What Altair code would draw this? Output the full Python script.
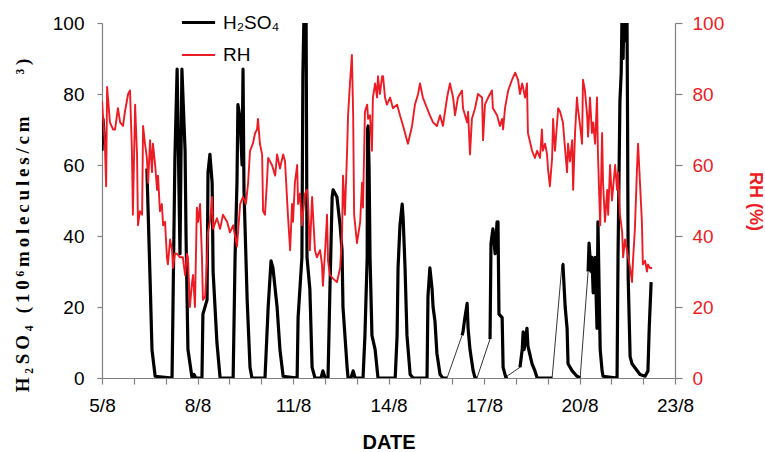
import altair as alt
import pandas as pd

RED = "#ed1c24"
GRAY = "#808080"
SERIES = ["H₂SO₄", "RH"]

# ---- H2SO4 (10^6 molecules/cm3): continuous measured stretches (thick line) ----
h2so4_t = [
    [5.00, 5.03, 5.09],
    [6.41, 6.51, 6.57, 6.67, 7.20, 7.23, 7.29, 7.36, 7.45, 7.51,
     7.61, 7.64, 7.70, 7.83, 7.89, 7.95, 8.14, 8.17, 8.30, 8.33,
     8.39, 8.46, 8.49, 8.61, 8.71, 9.12, 9.18, 9.24, 9.27, 9.34,
     9.40, 9.43, 9.46, 9.56, 9.65, 9.71, 10.12, 10.22, 10.31, 10.37,
     10.50, 10.59, 10.69, 11.13, 11.16, 11.28, 11.31, 11.35, 11.41, 11.44,
     11.53, 11.60, 11.69, 11.88, 11.94, 12.01, 12.10, 12.16, 12.23, 12.26,
     12.38, 12.48, 12.54, 12.57, 12.70, 12.73, 12.82, 12.89, 12.95, 13.20,
     13.26, 13.33, 13.34, 13.36, 13.39, 13.42, 13.48, 13.58, 13.67, 14.21,
     14.27, 14.30, 14.36, 14.43, 14.46, 14.52, 14.58, 14.68, 14.77, 15.21,
     15.24, 15.30, 15.37, 15.40, 15.46, 15.52, 15.62, 15.71, 15.84],
    [16.31, 16.34, 16.40, 16.47, 16.50, 16.56, 16.66, 16.72, 16.78],
    [17.19, 17.22, 17.28, 17.35, 17.41, 17.44, 17.47, 17.57, 17.60, 17.69, 17.72],
    [18.13, 18.20, 18.23, 18.26, 18.32, 18.35, 18.38, 18.51, 18.60, 18.67, 19.14],
    [19.45, 19.48, 19.55, 19.61, 19.64, 19.77, 19.92, 20.02],
    [20.27, 20.30, 20.36, 20.39, 20.43, 20.49, 20.55, 20.58, 20.65, 20.71,
     20.74, 21.18, 21.21, 21.27, 21.31, 21.34, 21.37, 21.40, 21.43, 21.46,
     21.49, 21.51, 21.53, 21.59, 21.65, 21.90, 22.06, 22.15, 22.19, 22.25],
]
h2so4_v = [
    [64, 73, 66],
    [59, 28, 8, 0.5, 0, 20, 62, 87, 35, 87,
     64, 40, 8, 0, 1, 0, 0, 18, 22, 58,
     63, 55, 30, 10, 0, 0, 34, 55, 77, 73,
     60, 87, 53, 22, 3, 0, 0, 20, 33, 31,
     20, 8, 0.5, 0, 17, 34, 85, 105, 105, 34,
     25, 3, 0, 0, 2, 0, 0, 25, 51, 53,
     51, 43, 36, 20, 3, 0, 0, 2, 0, 0,
     12, 34, 70, 71, 59, 34, 12, 8, 0, 0,
     12, 31, 43, 49, 45, 31, 12, 1, 0, 0,
     23, 31, 25, 20, 16, 7, 1, 0, 0],
    [12, 13, 17, 21, 14, 8, 2, 0, 0],
    [11, 38, 42, 35, 44, 44, 18, 17, 3, 0, 0.5],
    [3, 8, 13, 8, 12, 14, 9, 4, 2, 0, 0],
    [32, 32, 20, 14, 4, 2, 0.5, 0],
    [30, 38, 30, 34, 24, 34, 14, 44, 8, 2,
     0.5, 0, 34, 78, 86, 105, 90, 105, 95, 105,
     105, 72, 28, 6, 4, 1, 0.5, 2, 14, 27],
]

# ---- H2SO4 data gaps (thin connecting lines) ----
gap_t = [[15.84, 16.31], [16.78, 17.19], [17.72, 18.13], [19.14, 19.45], [20.02, 20.27]]
gap_v = [[0, 12], [0, 11], [0.5, 3], [0, 32], [0, 30]]

# ---- RH (%) ----
rh_t = [
    5.00, 5.09, 5.13, 5.16, 5.25, 5.35, 5.41, 5.47, 5.50, 5.57,
    5.66, 5.72, 5.82, 5.88, 5.94, 5.97, 6.04, 6.10, 6.13, 6.19,
    6.26, 6.29, 6.35, 6.41, 6.45, 6.51, 6.57, 6.60, 6.67, 6.73,
    6.76, 6.82, 6.88, 6.92, 6.98, 7.04, 7.07, 7.14, 7.20, 7.23,
    7.29, 7.36, 7.45, 7.54, 7.61, 7.67, 7.70, 7.76, 7.83, 7.86,
    7.92, 7.98, 8.02, 8.08, 8.14, 8.17, 8.24, 8.30, 8.33, 8.39,
    8.46, 8.49, 8.61, 8.71, 8.80, 8.93, 9.02, 9.12, 9.24, 9.34,
    9.43, 9.52, 9.59, 9.65, 9.74, 9.81, 9.87, 9.90, 9.96, 10.03,
    10.06, 10.12, 10.18, 10.22, 10.34, 10.44, 10.50, 10.59, 10.69, 10.75,
    10.84, 10.91, 10.97, 11.00, 11.06, 11.13, 11.16, 11.22, 11.28, 11.31,
    11.38, 11.44, 11.47, 11.53, 11.60, 11.63, 11.69, 11.75, 11.85, 11.91,
    11.94, 12.01, 12.07, 12.10, 12.16, 12.26, 12.38, 12.48, 12.54, 12.57,
    12.63, 12.70, 12.73, 12.79, 12.85, 12.89, 12.92, 13.01, 13.11, 13.17,
    13.20, 13.26, 13.33, 13.36, 13.42, 13.48, 13.51, 13.58, 13.64, 13.67,
    13.73, 13.80, 13.83, 13.89, 13.95, 14.05, 14.14, 14.27, 14.36, 14.46,
    14.58, 14.61, 14.74, 14.83, 14.93, 14.99, 15.08, 15.21, 15.30, 15.40,
    15.52, 15.62, 15.71, 15.84, 15.93, 16.03, 16.09, 16.18, 16.31, 16.34,
    16.47, 16.50, 16.56, 16.62, 16.72, 16.81, 16.94, 16.97, 17.03, 17.13,
    17.19, 17.25, 17.28, 17.41, 17.50, 17.57, 17.60, 17.66, 17.76, 17.88,
    17.98, 18.07, 18.13, 18.20, 18.29, 18.35, 18.38, 18.51, 18.60, 18.67,
    18.76, 18.82, 18.85, 18.92, 18.98, 19.01, 19.07, 19.14, 19.17, 19.23,
    19.33, 19.39, 19.48, 19.55, 19.61, 19.64, 19.70, 19.77, 19.80, 19.86,
    19.92, 19.95, 20.02, 20.08, 20.11, 20.17, 20.24, 20.27, 20.33, 20.39,
    20.43, 20.49, 20.55, 20.58, 20.65, 20.71, 20.74, 20.80, 20.87, 20.90,
    20.96, 21.02, 21.12, 21.18, 21.21, 21.27, 21.34, 21.37, 21.43, 21.49,
    21.53, 21.59, 21.65, 21.68, 21.74, 21.81, 21.84, 21.90, 21.96, 21.99,
    22.06, 22.12, 22.15, 22.21, 22.28,
]
rh_v = [
    78, 66, 54, 82, 72, 70, 70, 74, 76, 72,
    71, 75, 80, 81, 64, 46, 77, 63, 43, 47,
    46, 71, 66, 62, 55, 67, 58, 66, 60, 53,
    57, 47, 49, 43, 44, 34, 32, 39, 36, 31,
    35, 35, 34, 34, 29, 35, 34, 20, 27, 29,
    20, 48, 44, 49, 34, 22, 23, 33, 41, 44,
    51, 42, 45, 42, 46, 44, 41, 43, 37, 49,
    51, 49, 55, 64, 66, 69, 70, 73, 66, 63,
    47, 46, 55, 62, 60, 57, 63, 59, 63, 61,
    46, 36, 49, 44, 55, 60, 49, 52, 43, 46,
    52, 53, 50, 36, 51, 46, 36, 34, 36, 32,
    26, 36, 46, 33, 29, 28, 27, 31, 40, 57,
    46, 64, 74, 83, 91, 74, 46, 38, 44, 55,
    48, 75, 77, 73, 74, 64, 79, 83, 79, 85,
    80, 85, 85, 79, 77, 79, 76, 77, 74, 71,
    67, 66, 71, 77, 80, 83, 79, 76, 74, 72,
    71, 74, 71, 79, 83, 79, 74, 79, 81, 76,
    72, 75, 63, 73, 76, 80, 79, 67, 77, 79,
    80, 81, 76, 74, 71, 73, 70, 76, 81, 84,
    86, 84, 80, 83, 79, 83, 69, 64, 62, 64,
    62, 70, 64, 66, 63, 59, 54, 62, 73, 64,
    76, 75, 72, 64, 58, 66, 61, 67, 53, 69,
    79, 76, 71, 66, 84, 81, 74, 68, 79, 69,
    72, 66, 79, 63, 43, 69, 55, 44, 53, 46,
    60, 50, 60, 53, 58, 46, 41, 34, 39, 36,
    34, 31, 27, 33, 42, 60, 66, 55, 44, 32,
    33, 30, 32, 31, 31,
]

day_ticks = list(range(5, 24))
y_ticks = [0, 20, 40, 60, 80, 100]

# ---- build tables ----
h_rows = []
for i, (ts, vs) in enumerate(zip(h2so4_t, h2so4_v)):
    for t, v in zip(ts, vs):
        h_rows.append({"day": t, "value": v, "seg": i, "series": SERIES[0]})
h_df = pd.DataFrame(h_rows)

g_rows = []
for i, (ts, vs) in enumerate(zip(gap_t, gap_v)):
    for t, v in zip(ts, vs):
        g_rows.append({"day": t, "value": v, "seg": i})
g_df = pd.DataFrame(g_rows)

rh_df = pd.DataFrame({"day": rh_t, "rh": rh_v, "series": SERIES[1]})

left_title_raw = "H₂SO₄ (10⁶molecules/cm³)"
left_title = "\u2009".join(left_title_raw).replace("\u2009³", "\u2003\u2003\u2009³")

x_enc = alt.X(
    "day:Q",
    scale=alt.Scale(domain=[5, 23], nice=False, zero=False),
    axis=alt.Axis(
        orient="bottom", values=day_ticks,
        labelExpr="datum.value % 3 == 2 ? datum.value + '/8' : ''",
        labelFlush=False, labelOverlap=False, tickSize=6, labelPadding=12,
        labelColor="black",
        title="DATE", titleFont="Liberation Sans", titleFontSize=20,
        titleFontWeight="bold", titleColor="black", titleY=64,
        titleBaseline="middle",
    ),
)

y_left = alt.Y(
    "value:Q",
    scale=alt.Scale(domain=[0, 100], nice=False),
    axis=alt.Axis(
        orient="left", values=y_ticks, tickSize=5, labelPadding=13,
        labelColor="black", labelFlush=False,
        title=left_title, titleFont="Liberation Serif", titleFontSize=19,
        titleFontWeight="bold", titleColor="black", titleAngle=-90,
        titleX=-80, titleY=202, titleBaseline="middle", titleAlign="center",
    ),
)

y_right = alt.Y(
    "rh:Q",
    scale=alt.Scale(domain=[0, 100], nice=False),
    axis=alt.Axis(
        orient="right", values=y_ticks, tickSize=7, labelPadding=10,
        labelColor=RED, labelFlush=False,
        title="RH (%)", titleFont="Liberation Sans", titleFontSize=18,
        titleFontWeight="bold", titleColor=RED, titleAngle=90,
        titleX=79, titleY=178, titleBaseline="middle", titleAlign="center",
    ),
)

legend = alt.Legend(
    title=None, orient="none", legendX=78, legendY=-19,
    symbolType="stroke", symbolSize=1100, labelFont="Liberation Sans",
    labelFontSize=19, labelColor="black", labelOffset=6, rowPadding=4,
)
color_enc = alt.Color("series:O", scale=alt.Scale(domain=SERIES, range=["black", RED]), legend=legend)
sw_enc = alt.StrokeWidth("series:O", scale=alt.Scale(domain=SERIES, range=[3.2, 1.9]), legend=legend)

thick = alt.Chart(h_df).mark_line(clip=True, strokeJoin="round").encode(
    x=x_enc, y=y_left, detail="seg:N", color=color_enc, strokeWidth=sw_enc
)
thin = alt.Chart(g_df).mark_line(clip=True, color="black", strokeWidth=0.8).encode(
    x=x_enc, y=y_left, detail="seg:N"
)
rh = alt.Chart(rh_df).mark_line(clip=True, strokeJoin="round").encode(
    x=x_enc, y=y_right, color=color_enc, strokeWidth=sw_enc
)

chart = (
    alt.layer(alt.layer(thick, thin), rh)
    .resolve_scale(y="independent")
    .properties(
        width=573, height=355,
        autosize=alt.AutoSizeParams(type="none"),
        padding={"left": 102, "top": 23, "right": 90, "bottom": 74},
    )
    .configure_view(stroke=None)
    .configure_axis(
        grid=False, domainColor=GRAY, tickColor=GRAY, domainWidth=1.2, tickWidth=1.2,
        labelFont="Liberation Sans", labelFontSize=19,
    )
)

chart.save("out.html", embed_options={"renderer": "svg", "actions": False})
